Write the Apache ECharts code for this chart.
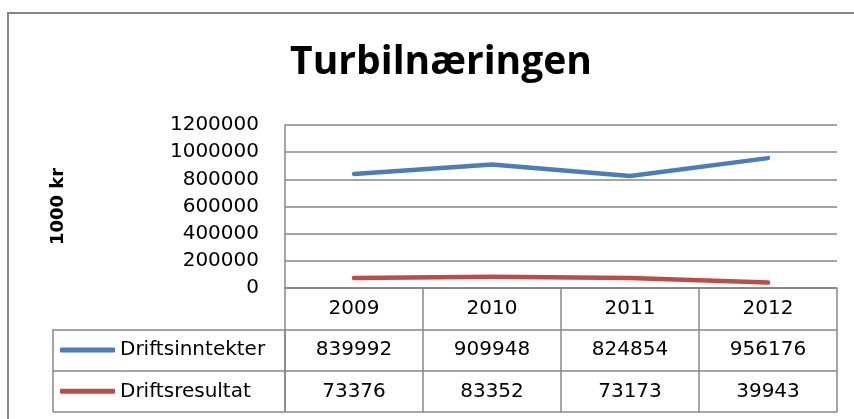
<!DOCTYPE html>
<html>
<head>
<meta charset="utf-8">
<script src="https://cdn.jsdelivr.net/npm/echarts@6/dist/echarts.min.js"></script>
<style>
  html, body { margin: 0; padding: 0; background: #fff; }
  #myEchartNode { width: 854px; height: 419px; }
</style>
</head>
<body>
<div id="myEchartNode"></div>
<script>
var years = ['2009', '2010', '2011', '2012'];
var driftsinntekter = [839992, 909948, 824854, 956176];
var driftsresultat = [73376, 83352, 73173, 39943];
var yTicks = [0, 200000, 400000, 600000, 800000, 1000000, 1200000];

; (function () {
    var gridColor = '#878787';
    var font = 'DejaVu Sans';

    // one x axis per row of the data table, all in the table grid
    function tableRow(offset, values) {
        return {
            type: 'category',
            gridIndex: 1,
            position: 'top',
            offset: offset,
            data: years,
            axisLine: { show: false },
            axisTick: { show: false },
            splitLine: { show: false },
            axisLabel: {
                interval: 0,
                margin: 20.7,
                verticalAlign: 'middle',
                color: '#000',
                fontFamily: font,
                fontSize: 20,
                formatter: function (v, i) { return values ? String(values[i]) : v; }
            }
        };
    }

    var myEchartObj = echarts.init(document.getElementById('myEchartNode'));
    var option = {
        backgroundColor: '#fff',
        animation: false,
        title: {
            text: 'Turbilnæringen',
            left: 436,
            textAlign: 'center',
            top: 38,
            textStyle: {
                fontFamily: 'Open Sans',
                fontWeight: 'bold',
                fontSize: 39,
                color: '#000'
            }
        },
        graphic: [{
            type: 'rect',
            shape: { x: 8, y: 13, width: 900, height: 500 },
            style: { fill: 'none', stroke: gridColor, lineWidth: 2 }
        }],
        legend: {
            data: ['Driftsinntekter', 'Driftsresultat'],
            orient: 'vertical',
            left: 60,
            top: 340,
            padding: 0,
            icon: 'roundRect',
            itemWidth: 55,
            itemHeight: 5,
            itemGap: 21.3,
            textStyle: {
                color: '#000',
                fontFamily: font,
                fontSize: 20
            }
        },
        grid: [
            { left: 285, right: 17, top: 125, height: 163 },
            { left: 285, right: 17, top: 288, height: 124 },
            { left: 53, width: 232, top: 329.3, height: 82.7 }
        ],
        xAxis: [
            {
                type: 'category',
                gridIndex: 0,
                data: years,
                boundaryGap: true,
                axisLine: { show: true, lineStyle: { color: gridColor, width: 1.5 } },
                axisTick: { show: false },
                axisLabel: { show: false }
            },
            {
                type: 'category',
                gridIndex: 1,
                data: years,
                boundaryGap: true,
                axisLine: { show: false },
                axisTick: { show: false },
                axisLabel: { show: false },
                splitLine: { show: true, interval: 0, lineStyle: { color: gridColor, width: 1.5 } }
            },
            tableRow(-41.3, null),
            tableRow(-82.7, driftsinntekter),
            tableRow(-124, driftsresultat),
            {
                type: 'value',
                gridIndex: 2,
                min: 0,
                max: 1,
                interval: 1,
                axisLine: { show: false },
                axisTick: { show: false },
                axisLabel: { show: false },
                splitLine: { show: true, lineStyle: { color: gridColor, width: 1.5 } }
            }
        ],
        yAxis: [
            {
                type: 'value',
                gridIndex: 0,
                min: yTicks[0],
                max: yTicks[yTicks.length - 1],
                interval: yTicks[1] - yTicks[0],
                name: '1000 kr',
                nameLocation: 'middle',
                nameGap: 218,
                nameTextStyle: {
                    color: '#000',
                    fontFamily: font,
                    fontWeight: 'bold',
                    fontSize: 18
                },
                axisLine: { show: true, lineStyle: { color: gridColor, width: 1.5 } },
                axisTick: { show: false },
                axisLabel: {
                    color: '#000',
                    fontFamily: font,
                    fontSize: 20,
                    margin: 26,
                    formatter: function (v) { return String(v); }
                },
                splitLine: { show: true, lineStyle: { color: gridColor, width: 1.5 } }
            },
            {
                type: 'value',
                gridIndex: 1,
                min: 0,
                max: 3,
                interval: 1,
                axisLine: { show: false },
                axisTick: { show: false },
                axisLabel: { show: false },
                splitLine: { show: true, lineStyle: { color: gridColor, width: 1.5 } }
            },
            {
                type: 'value',
                gridIndex: 2,
                min: 0,
                max: 2,
                interval: 1,
                axisLine: { show: false },
                axisTick: { show: false },
                axisLabel: { show: false },
                splitLine: { show: true, lineStyle: { color: gridColor, width: 1.5 } }
            }
        ],
        series: [
            {
                name: 'Driftsinntekter',
                type: 'line',
                xAxisIndex: 0,
                yAxisIndex: 0,
                symbol: 'none',
                itemStyle: { color: '#4A7EBB' },
                lineStyle: { color: '#4A7EBB', width: 4.5, cap: 'round', join: 'round' },
                data: driftsinntekter
            },
            {
                name: 'Driftsresultat',
                type: 'line',
                xAxisIndex: 0,
                yAxisIndex: 0,
                symbol: 'none',
                itemStyle: { color: '#BE4B48' },
                lineStyle: { color: '#BE4B48', width: 4.5, cap: 'round', join: 'round' },
                data: driftsresultat
            }
        ]
    };

    myEchartObj.setOption(option);
})();
</script>
</body>
</html>
